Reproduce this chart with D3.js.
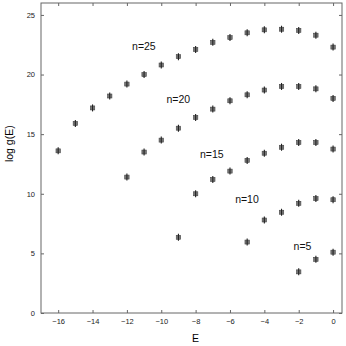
<!DOCTYPE html>
<html>
<head>
<meta charset="utf-8">
<script src="https://cdn.jsdelivr.net/npm/d3@7"></script>
<style>
  body { margin: 0; background: #fff; }
  text { font-family: "Liberation Sans", Arial, sans-serif; }
</style>
</head>
<body>
<div id="chart-area"></div>
<script>
// energies and log g(E)
var e25 = [-16, -15, -14, -13, -12, -11, -10, -9, -8, -7, -6, -5, -4, -3, -2, -1, 0]
var g25 = [13.6, 15.9, 17.2, 18.2, 19.2, 20.0, 20.8, 21.5, 22.1, 22.7, 23.1, 23.5, 23.75, 23.8, 23.7, 23.3, 22.3]
var e20 = [-12, -11, -10, -9, -8, -7, -6, -5, -4, -3, -2, -1, 0]
var g20 = [11.4, 13.5, 14.5, 15.5, 16.4, 17.1, 17.8, 18.3, 18.7, 19.0, 19.0, 18.8, 18.0]
var e15 = [-8, -7, -6, -5, -4, -3, -2, -1, 0]
var g15 = [10.0, 11.2, 11.9, 12.8, 13.4, 13.9, 14.3, 14.3, 13.75]
var e10 = [-9, -5, -4, -3, -2, -1, 0]
var g10 = [6.35, 5.95, 7.8, 8.45, 9.2, 9.6, 9.5]
var e5 = [-2, -1, 0]
var g5 = [3.45, 4.5, 5.1]

var seriesNames = ['n=25', 'n=20', 'n=15', 'n=10', 'n=5']
// where each label sits, in data units (left edge, middle)
var labelE = [-11.7, -9.7, -7.75, -5.7, -2.3]
var labelG = [22.4, 17.9, 13.3, 9.5, 5.6]

var xTicks = [-16, -14, -12, -10, -8, -6, -4, -2, 0]
var yTicks = [0, 5, 10, 15, 20, 25]

var margin = { left:41, right:4, top:3, bottom:33 }
var width = 346 - margin.left - margin.right,
    height = 346 - margin.top - margin.bottom;

var svg = d3.select('#chart-area')
    .append('svg')
    .attr('width', 346)
    .attr('height', 346)

var g = svg.append('g')
    .attr('transform', 'translate(' + margin.left + ', ' + margin.top + ')');

var x = d3.scaleLinear().domain([-17, 0.52]).range([0, width])
var y = d3.scaleLinear().domain([0, 26]).range([height, 0])

var axisColor = '#666'

// box
g.append('rect')
    .attr('width', width)
    .attr('height', height)
    .attr('fill', 'none')
    .attr('stroke', axisColor)
    .attr('stroke-width', 1)

function styleAxis(sel) {
  sel.select('.domain').remove()
  sel.selectAll('line').attr('stroke', axisColor)
  sel.selectAll('text').attr('fill', '#222').style('font-size', '7.5px')
}

g.append('g')
    .attr('transform', 'translate(0,' + height + ')')
    .call(d3.axisBottom(x).tickValues(xTicks).tickSizeInner(-3).tickSizeOuter(0).tickPadding(6))
    .call(styleAxis)
g.append('g')
    .call(d3.axisTop(x).tickValues(xTicks).tickSizeInner(-3).tickSizeOuter(0).tickFormat(''))
    .call(styleAxis)
g.append('g')
    .call(d3.axisLeft(y).tickValues(yTicks).tickSizeInner(-3).tickSizeOuter(0).tickPadding(6))
    .call(styleAxis)
g.append('g')
    .attr('transform', 'translate(' + width + ',0)')
    .call(d3.axisRight(y).tickValues(yTicks).tickSizeInner(-3).tickSizeOuter(0).tickFormat(''))
    .call(styleAxis)

var series = [
  { e: e25, g: g25 },
  { e: e20, g: g20 },
  { e: e15, g: g15 },
  { e: e10, g: g10 },
  { e: e5, g: g5 }
]

var points = []
series.forEach(function(s) {
  s.e.forEach(function(v, i) {
    points.push({ e: v, g: s.g[i] })
  })
})

// small matlab-ish star marker: grey blob with a vertical stroke
var pts = g.selectAll('g.pt').data(points)
  .enter()
  .append('g')
    .attr('class', 'pt')
    .attr('transform', function(d) {
      return 'translate(' + x(d.e) + ',' + y(d.g) + ')'
    })
pts.append('rect')
    .attr('x', -2.2).attr('y', -2)
    .attr('width', 4.4).attr('height', 4)
    .attr('fill', '#777')
    .attr('stroke', '#444')
    .attr('stroke-width', 0.6)
pts.append('line')
    .attr('y1', -3.5).attr('y2', 3.5)
    .attr('stroke', '#222')
    .attr('stroke-width', 1.1)

g.selectAll('text.lbl').data(seriesNames)
  .enter()
  .append('text')
    .attr('class', 'lbl')
    .attr('x', function(d, i) { return x(labelE[i]) })
    .attr('y', function(d, i) { return y(labelG[i]) })
    .attr('dy', '0.35em')
    .style('font-size', '10.5px')
    .attr('fill', '#111')
    .text(function(d) { return d })

svg.append('text')
    .attr('x', margin.left + x(-8))
    .attr('y', 342)
    .attr('text-anchor', 'middle')
    .style('font-size', '10.5px')
    .text('E')

svg.append('text')
    .attr('transform', 'translate(13,' + (margin.top + y(14.2)) + ') rotate(-90)')
    .attr('text-anchor', 'middle')
    .style('font-size', '10.5px')
    .text('log g(E)')
</script>
</body>
</html>
